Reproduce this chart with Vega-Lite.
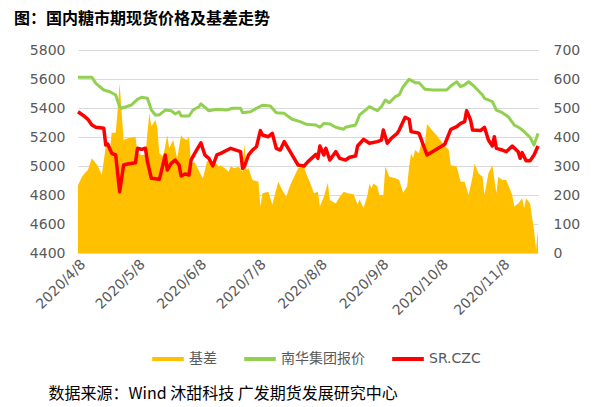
{
  "$schema": "https://vega.github.io/schema/vega-lite/v6.json",
  "width": 460,
  "height": 203,
  "autosize": "none",
  "padding": {"left": 78, "top": 50, "right": 68, "bottom": 154},
  "background": "white",
  "config": {"view": {"stroke": null}, "font": "DejaVu Sans"},
  "title": {
    "text": "图：国内糖市期现货价格及基差走势",
    "anchor": "start",
    "frame": "group",
    "dx": -64,
    "offset": 16,
    "font": "Noto Sans CJK SC",
    "fontSize": 16,
    "fontWeight": "bold",
    "color": "#000000"
  },
  "datasets": {
    "basis": [
      {"d": "2020/4/8", "s": "基差", "v": 234},
      {"d": "2020/4/10", "s": "基差", "v": 263},
      {"d": "2020/4/12", "s": "基差", "v": 280},
      {"d": "2020/4/13", "s": "基差", "v": 286},
      {"d": "2020/4/15", "s": "基差", "v": 327},
      {"d": "2020/4/17", "s": "基差", "v": 309},
      {"d": "2020/4/18", "s": "基差", "v": 300},
      {"d": "2020/4/20", "s": "基差", "v": 269},
      {"d": "2020/4/22", "s": "基差", "v": 367},
      {"d": "2020/4/23", "s": "基差", "v": 378},
      {"d": "2020/4/24", "s": "基差", "v": 344},
      {"d": "2020/4/25", "s": "基差", "v": 415},
      {"d": "2020/4/27", "s": "基差", "v": 415},
      {"d": "2020/4/28", "s": "基差", "v": 493},
      {"d": "2020/4/29", "s": "基差", "v": 585},
      {"d": "2020/4/30", "s": "基差", "v": 487},
      {"d": "2020/5/1", "s": "基差", "v": 390},
      {"d": "2020/5/3", "s": "基差", "v": 396},
      {"d": "2020/5/7", "s": "基差", "v": 401},
      {"d": "2020/5/8", "s": "基差", "v": 344},
      {"d": "2020/5/10", "s": "基差", "v": 338},
      {"d": "2020/5/12", "s": "基差", "v": 338},
      {"d": "2020/5/13", "s": "基差", "v": 413},
      {"d": "2020/5/14", "s": "基差", "v": 482},
      {"d": "2020/5/15", "s": "基差", "v": 436},
      {"d": "2020/5/17", "s": "基差", "v": 459},
      {"d": "2020/5/18", "s": "基差", "v": 433},
      {"d": "2020/5/19", "s": "基差", "v": 344},
      {"d": "2020/5/21", "s": "基差", "v": 332},
      {"d": "2020/5/23", "s": "基差", "v": 407},
      {"d": "2020/5/24", "s": "基差", "v": 361},
      {"d": "2020/5/26", "s": "基差", "v": 390},
      {"d": "2020/5/28", "s": "基差", "v": 327},
      {"d": "2020/5/30", "s": "基差", "v": 407},
      {"d": "2020/5/31", "s": "基差", "v": 396},
      {"d": "2020/6/2", "s": "基差", "v": 390},
      {"d": "2020/6/3", "s": "基差", "v": 401},
      {"d": "2020/6/4", "s": "基差", "v": 309},
      {"d": "2020/6/6", "s": "基差", "v": 312},
      {"d": "2020/6/9", "s": "基差", "v": 269},
      {"d": "2020/6/10", "s": "基差", "v": 258},
      {"d": "2020/6/12", "s": "基差", "v": 315},
      {"d": "2020/6/13", "s": "基差", "v": 321},
      {"d": "2020/6/15", "s": "基差", "v": 303},
      {"d": "2020/6/16", "s": "基差", "v": 315},
      {"d": "2020/6/18", "s": "基差", "v": 298},
      {"d": "2020/6/19", "s": "基差", "v": 303},
      {"d": "2020/6/21", "s": "基差", "v": 292},
      {"d": "2020/6/23", "s": "基差", "v": 280},
      {"d": "2020/6/24", "s": "基差", "v": 298},
      {"d": "2020/6/26", "s": "基差", "v": 292},
      {"d": "2020/6/28", "s": "基差", "v": 298},
      {"d": "2020/6/30", "s": "基差", "v": 280},
      {"d": "2020/7/1", "s": "基差", "v": 378},
      {"d": "2020/7/2", "s": "基差", "v": 286},
      {"d": "2020/7/3", "s": "基差", "v": 292},
      {"d": "2020/7/5", "s": "基差", "v": 252},
      {"d": "2020/7/8", "s": "基差", "v": 246},
      {"d": "2020/7/9", "s": "基差", "v": 160},
      {"d": "2020/7/10", "s": "基差", "v": 206},
      {"d": "2020/7/13", "s": "基差", "v": 211},
      {"d": "2020/7/15", "s": "基差", "v": 166},
      {"d": "2020/7/16", "s": "基差", "v": 194},
      {"d": "2020/7/18", "s": "基差", "v": 246},
      {"d": "2020/7/20", "s": "基差", "v": 217},
      {"d": "2020/7/22", "s": "基差", "v": 194},
      {"d": "2020/7/24", "s": "基差", "v": 234},
      {"d": "2020/7/26", "s": "基差", "v": 263},
      {"d": "2020/7/28", "s": "基差", "v": 292},
      {"d": "2020/7/31", "s": "基差", "v": 298},
      {"d": "2020/8/1", "s": "基差", "v": 275},
      {"d": "2020/8/3", "s": "基差", "v": 243},
      {"d": "2020/8/5", "s": "基差", "v": 206},
      {"d": "2020/8/7", "s": "基差", "v": 211},
      {"d": "2020/8/8", "s": "基差", "v": 160},
      {"d": "2020/8/10", "s": "基差", "v": 194},
      {"d": "2020/8/12", "s": "基差", "v": 242},
      {"d": "2020/8/13", "s": "基差", "v": 183},
      {"d": "2020/8/16", "s": "基差", "v": 171},
      {"d": "2020/8/18", "s": "基差", "v": 194},
      {"d": "2020/8/20", "s": "基差", "v": 211},
      {"d": "2020/8/22", "s": "基差", "v": 206},
      {"d": "2020/8/25", "s": "基差", "v": 203},
      {"d": "2020/8/27", "s": "基差", "v": 166},
      {"d": "2020/8/28", "s": "基差", "v": 185},
      {"d": "2020/8/30", "s": "基差", "v": 154},
      {"d": "2020/9/1", "s": "基差", "v": 200},
      {"d": "2020/9/2", "s": "基差", "v": 240},
      {"d": "2020/9/3", "s": "基差", "v": 223},
      {"d": "2020/9/4", "s": "基差", "v": 240},
      {"d": "2020/9/6", "s": "基差", "v": 229},
      {"d": "2020/9/7", "s": "基差", "v": 200},
      {"d": "2020/9/9", "s": "基差", "v": 200},
      {"d": "2020/9/10", "s": "基差", "v": 298},
      {"d": "2020/9/12", "s": "基差", "v": 263},
      {"d": "2020/9/15", "s": "基差", "v": 258},
      {"d": "2020/9/17", "s": "基差", "v": 252},
      {"d": "2020/9/19", "s": "基差", "v": 208},
      {"d": "2020/9/21", "s": "基差", "v": 229},
      {"d": "2020/9/22", "s": "基差", "v": 298},
      {"d": "2020/9/23", "s": "基差", "v": 344},
      {"d": "2020/9/24", "s": "基差", "v": 327},
      {"d": "2020/9/25", "s": "基差", "v": 355},
      {"d": "2020/9/27", "s": "基差", "v": 344},
      {"d": "2020/9/28", "s": "基差", "v": 378},
      {"d": "2020/9/30", "s": "基差", "v": 378},
      {"d": "2020/10/1", "s": "基差", "v": 445},
      {"d": "2020/10/4", "s": "基差", "v": 420},
      {"d": "2020/10/6", "s": "基差", "v": 405},
      {"d": "2020/10/9", "s": "基差", "v": 378},
      {"d": "2020/10/12", "s": "基差", "v": 355},
      {"d": "2020/10/13", "s": "基差", "v": 303},
      {"d": "2020/10/16", "s": "基差", "v": 298},
      {"d": "2020/10/18", "s": "基差", "v": 246},
      {"d": "2020/10/20", "s": "基差", "v": 246},
      {"d": "2020/10/22", "s": "基差", "v": 200},
      {"d": "2020/10/24", "s": "基差", "v": 263},
      {"d": "2020/10/25", "s": "基差", "v": 309},
      {"d": "2020/10/27", "s": "基差", "v": 275},
      {"d": "2020/10/29", "s": "基差", "v": 263},
      {"d": "2020/10/30", "s": "基差", "v": 200},
      {"d": "2020/11/1", "s": "基差", "v": 275},
      {"d": "2020/11/3", "s": "基差", "v": 303},
      {"d": "2020/11/5", "s": "基差", "v": 206},
      {"d": "2020/11/6", "s": "基差", "v": 263},
      {"d": "2020/11/8", "s": "基差", "v": 252},
      {"d": "2020/11/10", "s": "基差", "v": 252},
      {"d": "2020/11/13", "s": "基差", "v": 200},
      {"d": "2020/11/14", "s": "基差", "v": 160},
      {"d": "2020/11/16", "s": "基差", "v": 171},
      {"d": "2020/11/18", "s": "基差", "v": 189},
      {"d": "2020/11/19", "s": "基差", "v": 154},
      {"d": "2020/11/20", "s": "基差", "v": 189},
      {"d": "2020/11/22", "s": "基差", "v": 171},
      {"d": "2020/11/24", "s": "基差", "v": 79},
      {"d": "2020/11/25", "s": "基差", "v": 10},
      {"d": "2020/11/26", "s": "基差", "v": 79}
    ],
    "spot": [
      {"d": "2020/4/8", "s": "南华集团报价", "v": 5612},
      {"d": "2020/4/15", "s": "南华集团报价", "v": 5612},
      {"d": "2020/4/17", "s": "南华集团报价", "v": 5570},
      {"d": "2020/4/21", "s": "南华集团报价", "v": 5524},
      {"d": "2020/4/24", "s": "南华集团报价", "v": 5512},
      {"d": "2020/4/27", "s": "南华集团报价", "v": 5490},
      {"d": "2020/4/29", "s": "南华集团报价", "v": 5409},
      {"d": "2020/4/30", "s": "南华集团报价", "v": 5398},
      {"d": "2020/5/5", "s": "南华集团报价", "v": 5421},
      {"d": "2020/5/8", "s": "南华集团报价", "v": 5460},
      {"d": "2020/5/10", "s": "南华集团报价", "v": 5474},
      {"d": "2020/5/13", "s": "南华集团报价", "v": 5467},
      {"d": "2020/5/15", "s": "南华集团报价", "v": 5386},
      {"d": "2020/5/17", "s": "南华集团报价", "v": 5352},
      {"d": "2020/5/19", "s": "南华集团报价", "v": 5352},
      {"d": "2020/5/22", "s": "南华集团报价", "v": 5386},
      {"d": "2020/5/25", "s": "南华集团报价", "v": 5381},
      {"d": "2020/5/27", "s": "南华集团报价", "v": 5359},
      {"d": "2020/5/29", "s": "南华集团报价", "v": 5374},
      {"d": "2020/5/30", "s": "南华集团报价", "v": 5345},
      {"d": "2020/6/3", "s": "南华集团报价", "v": 5345},
      {"d": "2020/6/5", "s": "南华集团报价", "v": 5386},
      {"d": "2020/6/8", "s": "南华集团报价", "v": 5409},
      {"d": "2020/6/9", "s": "南华集团报价", "v": 5428},
      {"d": "2020/6/13", "s": "南华集团报价", "v": 5381},
      {"d": "2020/6/17", "s": "南华集团报价", "v": 5391},
      {"d": "2020/6/22", "s": "南华集团报价", "v": 5386},
      {"d": "2020/6/25", "s": "南华集团报价", "v": 5398},
      {"d": "2020/6/29", "s": "南华集团报价", "v": 5398},
      {"d": "2020/6/30", "s": "南华集团报价", "v": 5368},
      {"d": "2020/7/4", "s": "南华集团报价", "v": 5374},
      {"d": "2020/7/7", "s": "南华集团报价", "v": 5398},
      {"d": "2020/7/10", "s": "南华集团报价", "v": 5419},
      {"d": "2020/7/14", "s": "南华集团报价", "v": 5414},
      {"d": "2020/7/17", "s": "南华集团报价", "v": 5368},
      {"d": "2020/7/21", "s": "南华集团报价", "v": 5363},
      {"d": "2020/7/25", "s": "南华集团报价", "v": 5322},
      {"d": "2020/7/29", "s": "南华集团报价", "v": 5306},
      {"d": "2020/8/1", "s": "南华集团报价", "v": 5288},
      {"d": "2020/8/6", "s": "南华集团报价", "v": 5283},
      {"d": "2020/8/8", "s": "南华集团报价", "v": 5267},
      {"d": "2020/8/10", "s": "南华集团报价", "v": 5294},
      {"d": "2020/8/13", "s": "南华集团报价", "v": 5290},
      {"d": "2020/8/16", "s": "南华集团报价", "v": 5267},
      {"d": "2020/8/20", "s": "南华集团报价", "v": 5253},
      {"d": "2020/8/21", "s": "南华集团报价", "v": 5267},
      {"d": "2020/8/26", "s": "南华集团报价", "v": 5283},
      {"d": "2020/8/28", "s": "南华集团报价", "v": 5352},
      {"d": "2020/8/31", "s": "南华集团报价", "v": 5386},
      {"d": "2020/9/2", "s": "南华集团报价", "v": 5409},
      {"d": "2020/9/6", "s": "南华集团报价", "v": 5381},
      {"d": "2020/9/8", "s": "南华集团报价", "v": 5409},
      {"d": "2020/9/10", "s": "南华集团报价", "v": 5455},
      {"d": "2020/9/12", "s": "南华集团报价", "v": 5437},
      {"d": "2020/9/15", "s": "南华集团报价", "v": 5478},
      {"d": "2020/9/17", "s": "南华集团报价", "v": 5490},
      {"d": "2020/9/19", "s": "南华集团报价", "v": 5547},
      {"d": "2020/9/22", "s": "南华集团报价", "v": 5598},
      {"d": "2020/9/25", "s": "南华集团报价", "v": 5575},
      {"d": "2020/9/27", "s": "南华集团报价", "v": 5575},
      {"d": "2020/9/30", "s": "南华集团报价", "v": 5529},
      {"d": "2020/10/4", "s": "南华集团报价", "v": 5524},
      {"d": "2020/10/11", "s": "南华集团报价", "v": 5524},
      {"d": "2020/10/13", "s": "南华集团报价", "v": 5552},
      {"d": "2020/10/16", "s": "南华集团报价", "v": 5581},
      {"d": "2020/10/18", "s": "南华集团报价", "v": 5547},
      {"d": "2020/10/20", "s": "南华集团报价", "v": 5560},
      {"d": "2020/10/22", "s": "南华集团报价", "v": 5581},
      {"d": "2020/10/25", "s": "南华集团报价", "v": 5547},
      {"d": "2020/10/29", "s": "南华集团报价", "v": 5490},
      {"d": "2020/10/30", "s": "南华集团报价", "v": 5467},
      {"d": "2020/11/3", "s": "南华集团报价", "v": 5444},
      {"d": "2020/11/5", "s": "南华集团报价", "v": 5386},
      {"d": "2020/11/8", "s": "南华集团报价", "v": 5368},
      {"d": "2020/11/11", "s": "南华集团报价", "v": 5340},
      {"d": "2020/11/14", "s": "南华集团报价", "v": 5283},
      {"d": "2020/11/17", "s": "南华集团报价", "v": 5260},
      {"d": "2020/11/19", "s": "南华集团报价", "v": 5237},
      {"d": "2020/11/22", "s": "南华集团报价", "v": 5198},
      {"d": "2020/11/24", "s": "南华集团报价", "v": 5145},
      {"d": "2020/11/26", "s": "南华集团报价", "v": 5225}
    ],
    "futures": [
      {"d": "2020/4/8", "s": "SR.CZC", "v": 5374},
      {"d": "2020/4/11", "s": "SR.CZC", "v": 5345},
      {"d": "2020/4/13", "s": "SR.CZC", "v": 5322},
      {"d": "2020/4/15", "s": "SR.CZC", "v": 5283},
      {"d": "2020/4/17", "s": "SR.CZC", "v": 5267},
      {"d": "2020/4/21", "s": "SR.CZC", "v": 5260},
      {"d": "2020/4/22", "s": "SR.CZC", "v": 5145},
      {"d": "2020/4/23", "s": "SR.CZC", "v": 5152},
      {"d": "2020/4/25", "s": "SR.CZC", "v": 5087},
      {"d": "2020/4/27", "s": "SR.CZC", "v": 5076},
      {"d": "2020/4/29", "s": "SR.CZC", "v": 4823},
      {"d": "2020/5/1", "s": "SR.CZC", "v": 5007},
      {"d": "2020/5/3", "s": "SR.CZC", "v": 5014},
      {"d": "2020/5/7", "s": "SR.CZC", "v": 5023},
      {"d": "2020/5/8", "s": "SR.CZC", "v": 5122},
      {"d": "2020/5/10", "s": "SR.CZC", "v": 5115},
      {"d": "2020/5/12", "s": "SR.CZC", "v": 5122},
      {"d": "2020/5/13", "s": "SR.CZC", "v": 5030},
      {"d": "2020/5/15", "s": "SR.CZC", "v": 4915},
      {"d": "2020/5/19", "s": "SR.CZC", "v": 4908},
      {"d": "2020/5/20", "s": "SR.CZC", "v": 4961},
      {"d": "2020/5/22", "s": "SR.CZC", "v": 5076},
      {"d": "2020/5/23", "s": "SR.CZC", "v": 4972},
      {"d": "2020/5/25", "s": "SR.CZC", "v": 5018},
      {"d": "2020/5/27", "s": "SR.CZC", "v": 5041},
      {"d": "2020/5/29", "s": "SR.CZC", "v": 5007},
      {"d": "2020/5/30", "s": "SR.CZC", "v": 4931},
      {"d": "2020/6/1", "s": "SR.CZC", "v": 4945},
      {"d": "2020/6/3", "s": "SR.CZC", "v": 4938},
      {"d": "2020/6/4", "s": "SR.CZC", "v": 5040},
      {"d": "2020/6/6", "s": "SR.CZC", "v": 5090},
      {"d": "2020/6/9", "s": "SR.CZC", "v": 5160},
      {"d": "2020/6/11", "s": "SR.CZC", "v": 5076},
      {"d": "2020/6/13", "s": "SR.CZC", "v": 5053},
      {"d": "2020/6/15", "s": "SR.CZC", "v": 5000},
      {"d": "2020/6/17", "s": "SR.CZC", "v": 5076},
      {"d": "2020/6/19", "s": "SR.CZC", "v": 5087},
      {"d": "2020/6/24", "s": "SR.CZC", "v": 5122},
      {"d": "2020/6/29", "s": "SR.CZC", "v": 5099},
      {"d": "2020/6/30", "s": "SR.CZC", "v": 4984},
      {"d": "2020/7/1", "s": "SR.CZC", "v": 5000},
      {"d": "2020/7/3", "s": "SR.CZC", "v": 5076},
      {"d": "2020/7/5", "s": "SR.CZC", "v": 5110},
      {"d": "2020/7/7", "s": "SR.CZC", "v": 5133},
      {"d": "2020/7/9", "s": "SR.CZC", "v": 5244},
      {"d": "2020/7/10", "s": "SR.CZC", "v": 5214},
      {"d": "2020/7/13", "s": "SR.CZC", "v": 5202},
      {"d": "2020/7/15", "s": "SR.CZC", "v": 5225},
      {"d": "2020/7/17", "s": "SR.CZC", "v": 5122},
      {"d": "2020/7/19", "s": "SR.CZC", "v": 5110},
      {"d": "2020/7/21", "s": "SR.CZC", "v": 5168},
      {"d": "2020/7/24", "s": "SR.CZC", "v": 5099},
      {"d": "2020/7/26", "s": "SR.CZC", "v": 5053},
      {"d": "2020/7/28", "s": "SR.CZC", "v": 5007},
      {"d": "2020/7/31", "s": "SR.CZC", "v": 5000},
      {"d": "2020/8/2", "s": "SR.CZC", "v": 5030},
      {"d": "2020/8/6", "s": "SR.CZC", "v": 5080},
      {"d": "2020/8/7", "s": "SR.CZC", "v": 5053},
      {"d": "2020/8/8", "s": "SR.CZC", "v": 5138},
      {"d": "2020/8/10", "s": "SR.CZC", "v": 5076},
      {"d": "2020/8/11", "s": "SR.CZC", "v": 5122},
      {"d": "2020/8/13", "s": "SR.CZC", "v": 5041},
      {"d": "2020/8/16", "s": "SR.CZC", "v": 5099},
      {"d": "2020/8/18", "s": "SR.CZC", "v": 5053},
      {"d": "2020/8/21", "s": "SR.CZC", "v": 5041},
      {"d": "2020/8/23", "s": "SR.CZC", "v": 5060},
      {"d": "2020/8/26", "s": "SR.CZC", "v": 5069},
      {"d": "2020/8/27", "s": "SR.CZC", "v": 5138},
      {"d": "2020/8/30", "s": "SR.CZC", "v": 5184},
      {"d": "2020/9/2", "s": "SR.CZC", "v": 5157},
      {"d": "2020/9/6", "s": "SR.CZC", "v": 5168},
      {"d": "2020/9/8", "s": "SR.CZC", "v": 5179},
      {"d": "2020/9/9", "s": "SR.CZC", "v": 5248},
      {"d": "2020/9/11", "s": "SR.CZC", "v": 5157},
      {"d": "2020/9/13", "s": "SR.CZC", "v": 5191},
      {"d": "2020/9/16", "s": "SR.CZC", "v": 5225},
      {"d": "2020/9/17", "s": "SR.CZC", "v": 5248},
      {"d": "2020/9/20", "s": "SR.CZC", "v": 5336},
      {"d": "2020/9/22", "s": "SR.CZC", "v": 5322},
      {"d": "2020/9/23", "s": "SR.CZC", "v": 5237},
      {"d": "2020/9/26", "s": "SR.CZC", "v": 5230},
      {"d": "2020/9/27", "s": "SR.CZC", "v": 5225},
      {"d": "2020/10/1", "s": "SR.CZC", "v": 5076},
      {"d": "2020/10/10", "s": "SR.CZC", "v": 5150},
      {"d": "2020/10/13", "s": "SR.CZC", "v": 5253},
      {"d": "2020/10/16", "s": "SR.CZC", "v": 5271},
      {"d": "2020/10/18", "s": "SR.CZC", "v": 5294},
      {"d": "2020/10/20", "s": "SR.CZC", "v": 5306},
      {"d": "2020/10/21", "s": "SR.CZC", "v": 5381},
      {"d": "2020/10/23", "s": "SR.CZC", "v": 5317},
      {"d": "2020/10/24", "s": "SR.CZC", "v": 5248},
      {"d": "2020/10/28", "s": "SR.CZC", "v": 5244},
      {"d": "2020/10/30", "s": "SR.CZC", "v": 5267},
      {"d": "2020/11/1", "s": "SR.CZC", "v": 5179},
      {"d": "2020/11/3", "s": "SR.CZC", "v": 5138},
      {"d": "2020/11/4", "s": "SR.CZC", "v": 5202},
      {"d": "2020/11/5", "s": "SR.CZC", "v": 5122},
      {"d": "2020/11/8", "s": "SR.CZC", "v": 5110},
      {"d": "2020/11/10", "s": "SR.CZC", "v": 5099},
      {"d": "2020/11/13", "s": "SR.CZC", "v": 5138},
      {"d": "2020/11/16", "s": "SR.CZC", "v": 5099},
      {"d": "2020/11/17", "s": "SR.CZC", "v": 5053},
      {"d": "2020/11/18", "s": "SR.CZC", "v": 5092},
      {"d": "2020/11/20", "s": "SR.CZC", "v": 5037},
      {"d": "2020/11/22", "s": "SR.CZC", "v": 5037},
      {"d": "2020/11/24", "s": "SR.CZC", "v": 5076},
      {"d": "2020/11/26", "s": "SR.CZC", "v": 5138}
    ]
  },
  "layer": [
    {
      "data": {"name": "basis"},
      "mark": {"type": "area", "opacity": 1},
      "encoding": {
        "x": {
          "field": "d",
          "type": "temporal",
          "scale": {
            "domain": [
              {"year": 2020, "month": 4, "date": 8},
              {"year": 2020, "month": 11, "date": 26}
            ],
            "nice": false
          },
          "axis": {
            "values": [
              {"year": 2020, "month": 4, "date": 8},
              {"year": 2020, "month": 5, "date": 8},
              {"year": 2020, "month": 6, "date": 8},
              {"year": 2020, "month": 7, "date": 8},
              {"year": 2020, "month": 8, "date": 8},
              {"year": 2020, "month": 9, "date": 8},
              {"year": 2020, "month": 10, "date": 8},
              {"year": 2020, "month": 11, "date": 8}
            ],
            "format": "%Y/%-m/%-d",
            "labelAngle": -45,
            "labelFontSize": 14,
            "labelColor": "#595959",
            "labelPadding": 4,
            "labelOverlap": false,
            "labelFlush": false,
            "ticks": false,
            "grid": false,
            "domainColor": "#d9d9d9",
            "title": "数据来源：Wind 沐甜科技 广发期货发展研究中心",
            "titleX": -30,
            "titleY": 140,
            "titleAlign": "left",
            "titleBaseline": "middle",
            "titleAnchor": "start",
            "titleFont": "Noto Sans CJK SC",
            "titleFontSize": 16,
            "titleFontWeight": "normal",
            "titleColor": "#000000"
          }
        },
        "y": {
          "field": "v",
          "type": "quantitative",
          "scale": {"domain": [0, 700], "nice": false},
          "axis": {
            "orient": "right",
            "values": [0, 100, 200, 300, 400, 500, 600, 700],
            "grid": false,
            "domain": false,
            "ticks": false,
            "labelPadding": 15,
            "labelFontSize": 14,
            "labelColor": "#595959",
            "title": null
          }
        },
        "color": {
          "field": "s",
          "type": "nominal",
          "scale": {
            "domain": ["基差", "南华集团报价", "SR.CZC"],
            "range": ["#FFC000", "#92D050", "#FF0000"]
          },
          "legend": {
            "orient": "none",
            "legendX": 72,
            "legendY": 291,
            "direction": "horizontal",
            "title": null,
            "padding": 0,
            "symbolType": "stroke",
            "symbolSize": 1000,
            "symbolStrokeWidth": 4,
            "labelFontSize": 14,
            "labelFont": "DejaVu Sans, Noto Sans CJK SC",
            "labelColor": "#595959",
            "labelOffset": 3,
            "columnPadding": 19,
            "encode": {
              "symbols": {
                "update": {
                  "strokeWidth": {"signal": "datum.value === '基差' ? 8 : 4"},
                  "stroke": {"scale": "color", "field": "value"}
                }
              }
            }
          }
        }
      }
    },
    {
      "encoding": {
        "x": {"field": "d", "type": "temporal"},
        "y": {
          "field": "v",
          "type": "quantitative",
          "scale": {"domain": [4400, 5800], "nice": false, "zero": false},
          "axis": {
            "orient": "left",
            "values": [4400, 4600, 4800, 5000, 5200, 5400, 5600, 5800],
            "format": "d",
            "labelOverlap": false,
            "grid": true,
            "gridColor": "#d9d9d9",
            "gridWidth": 1.2,
            "domain": false,
            "ticks": false,
            "labelPadding": 13,
            "labelFontSize": 14,
            "labelColor": "#595959",
            "title": null
          }
        },
        "color": {"field": "s", "type": "nominal"}
      },
      "layer": [
        {
          "data": {"name": "spot"},
          "mark": {"type": "line", "strokeWidth": 3, "strokeJoin": "round"}
        },
        {
          "data": {"name": "futures"},
          "mark": {"type": "line", "strokeWidth": 3.5, "strokeJoin": "round"}
        }
      ]
    }
  ],
  "resolve": {"scale": {"y": "independent"}}
}
